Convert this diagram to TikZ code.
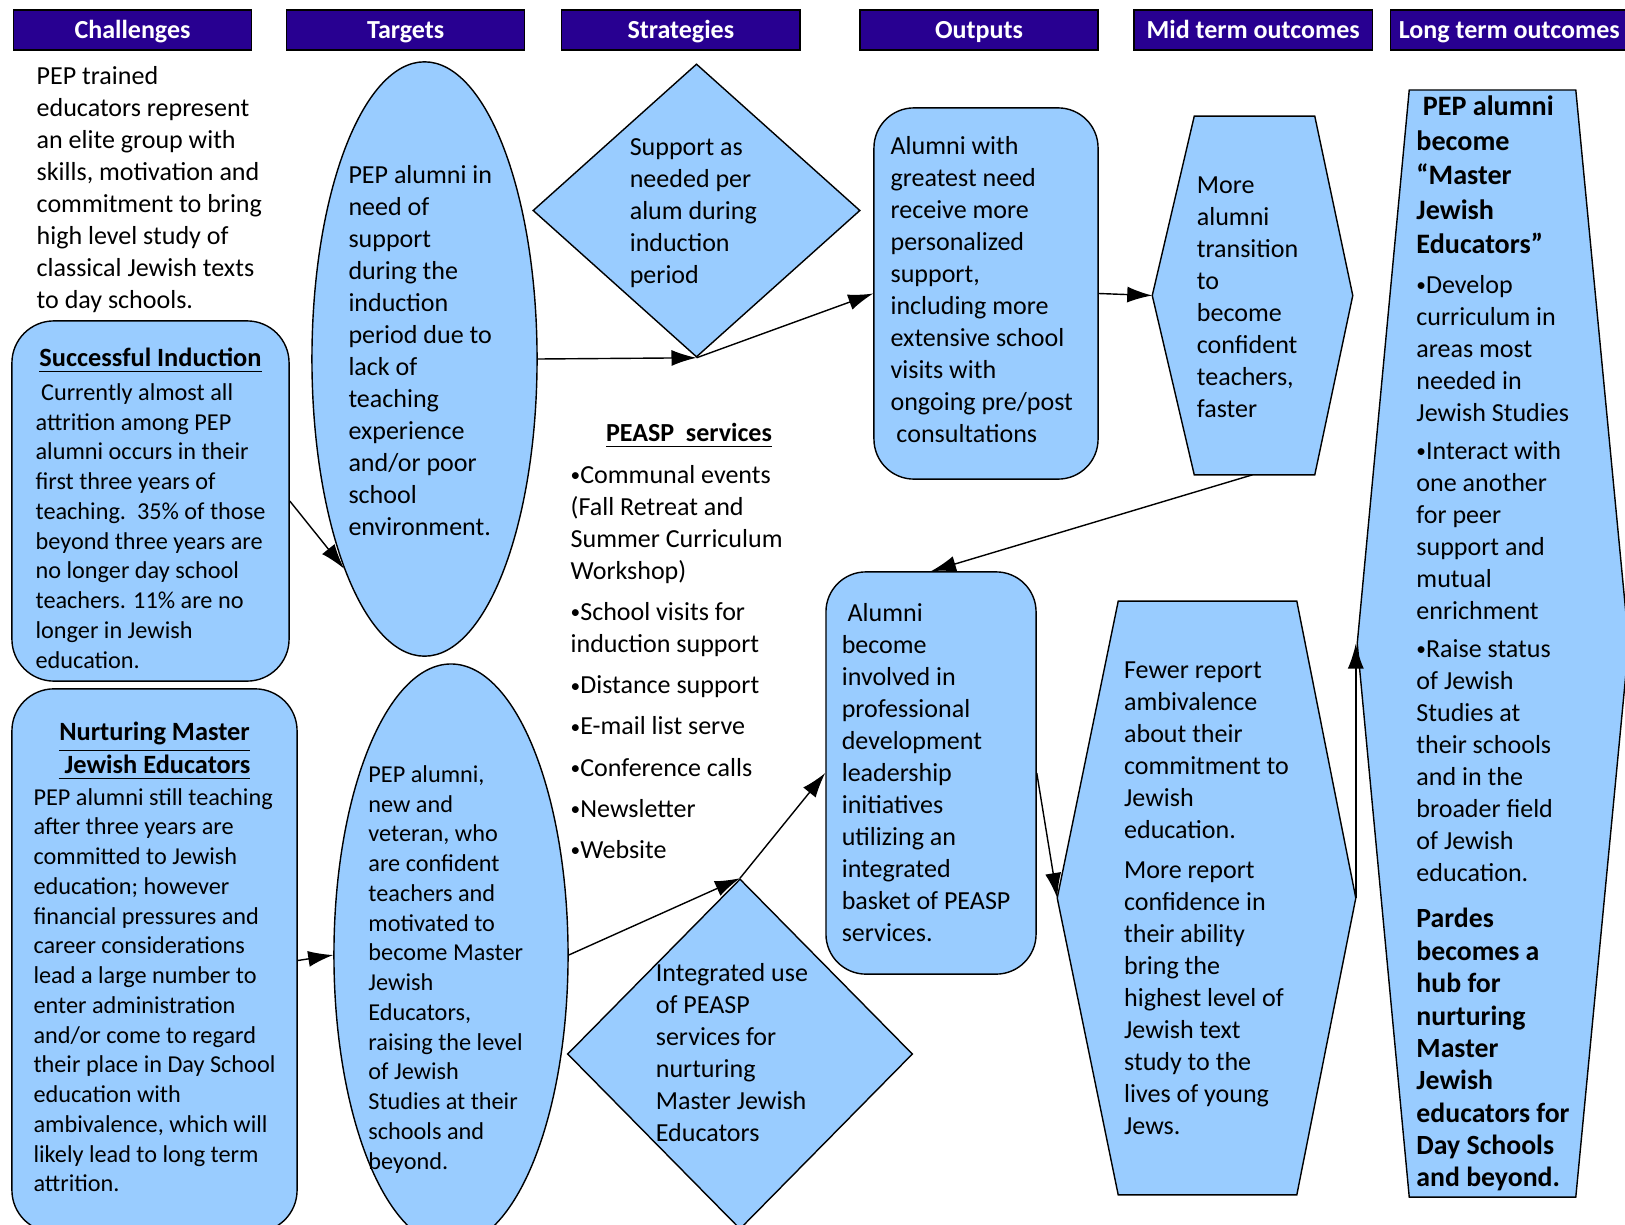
\documentclass[tikz,border=0pt]{standalone}
\usepackage{fontspec}
\setmainfont{Carlito}
\usetikzlibrary{positioning}
\usetikzlibrary{arrows.meta, shapes, backgrounds, calc}

\definecolor{hdrblue}{RGB}{40,0,145}
\definecolor{boxblue}{RGB}{153,204,255}
\newcommand{\ltbold}[1]{{\fontsize{8}{9.8}\selectfont\bfseries #1}}
\newcommand{\ltpardes}[1]{{\fontsize{7.9}{9.2}\selectfont\bfseries #1}}
\newcommand{\boxhead}[1]{{\fontsize{7.5}{9}\selectfont\bfseries\underline{#1}}}
\newcommand{\bul}{\raisebox{0.5pt}{\fontsize{5.5}{5.5}\selectfont\textbullet}}
% text block moved by (#1, #2) inside its shape
\newcommand{\nudged}[3]{\raisebox{#2}[\height][\depth]{\hspace*{#1}\begin{tabular}{@{}l@{}}#3\end{tabular}\hspace*{-#1}}}

\begin{document}
\begin{tikzpicture}[x=0.01cm, y=-0.01cm, >={Latex[length=2.5mm, width=1.6mm]}, font=\fontsize{7.4}{9.1}\selectfont]%

    \tikzstyle{hdr} = [ rectangle, thin, draw = black, fill = hdrblue, text = white, font = \fontsize{7.4}{9.1}\selectfont\bfseries, minimum width = 2.38cm, minimum height = 0.4cm, inner sep = 0pt, outer sep = 0pt, text height = 0.7em, text depth = 0.22em]
    \tikzstyle{rbox} = [ rectangle, rounded corners = 0.42cm, thin, draw = black, fill = boxblue, inner sep = 0pt, align = left]
    \tikzstyle{oval} = [ ellipse, thin, draw = black, fill = boxblue, inner sep = 0pt, align = left]
    \tikzstyle{dmd} = [ diamond, thin, draw = black, fill = boxblue, inner sep = -1pt, align = left]
    \tikzstyle{hexa} = [ rectangle, inner sep = 0pt, align = left]
    \tikzstyle{hexline} = [ thin, draw = black, fill = boxblue]
    \tikzstyle{smalltxt} = [ font = \fontsize{6.9}{8.46}\selectfont]
    \tikzstyle{plain} = [ inner sep = 0pt, align = left]
    \tikzstyle{flowarrow} = [ ->, thin]

    \useasboundingbox (0,0) rectangle (1625,1224);
    \clip (0,0) rectangle (1625,1224);

    %% Column headers
    \node [hdr] (hd_chal) at (132.5, 30) {Challenges};
    \node [hdr, right = 0.35cm of hd_chal] (hd_tgt) {Targets};
    \node [hdr, right = 0.37cm of hd_tgt] (hd_str) {Strategies};
    \node [hdr, right = 0.6cm of hd_str] (hd_out) {Outputs};
    \node [hdr, right = 0.36cm of hd_out] (hd_mid) {Mid term outcomes};
    \node [hdr, right = 0.18cm of hd_mid] (hd_long) {Long term outcomes};

    %% Challenges
    \node [plain, anchor = west] (chal_txt) at (36, 190) {PEP trained\\ educators represent\\ an elite group with\\ skills, motivation and\\ commitment to bring\\ high level study of\\ classical Jewish texts\\ to day schools.};

    \node [rbox, smalltxt, minimum width = 2.77cm, minimum height = 3.6cm] (chal_si) at (150.5, 501) {\nudged{0pt}{-2.9pt}{
        \multicolumn{1}{@{}c@{}}{\boxhead{Successful Induction}}\\[1.2pt]
        \ Currently almost all\\ attrition among PEP\\ alumni occurs in their\\ first three years of\\ teaching.\ \ 35\% of those\\ beyond three years are\\ no longer day school\\ teachers. 11\% are no\\ longer in Jewish\\ education.}};

    \node [rbox, smalltxt, minimum width = 2.85cm, minimum height = 5.43cm] (chal_nm) at (154.5, 960.5) {\begin{tabular}{@{}l@{}}
        \multicolumn{1}{@{}c@{}}{\boxhead{Nurturing Master}}\\[0.3pt]
        \multicolumn{1}{@{}c@{}}{\boxhead{\ Jewish Educators}}\\[0.6pt]
        PEP alumni still teaching\\ after three years are\\ committed to Jewish\\ education; however\\ financial pressures and\\ career considerations\\ lead a large number to\\ enter administration\\ and/or come to regard\\ their place in Day School\\ education with\\ ambivalence, which will\\ likely lead to long term\\ attrition.
        \end{tabular}};

    %% Targets
    \node [oval, minimum width = 2.25cm, minimum height = 5.94cm] (tgt_1) at (424.5, 359) {\nudged{-1.2pt}{1.6pt}{PEP alumni in\\ need of\\ support\\ during the\\ induction\\ period due to\\ lack of\\ teaching\\ experience\\ and/or poor\\ school\\ environment.}};

    \node [oval, smalltxt, inner ysep = -0.7pt, minimum width = 2.34cm, minimum height = 5.74cm] (tgt_2) at (451, 955) {\nudged{-1.5pt}{-4.2pt}{PEP alumni,\\ new and\\ veteran, who\\ are confident\\ teachers and\\ motivated to\\ become Master\\ Jewish\\ Educators,\\ raising the level\\ of Jewish\\ Studies at their\\ schools and\\ beyond.}};

    %% Strategies
    \node [dmd, minimum width = 3.27cm, minimum height = 2.93cm] (str_1) at (696.5, 210.5) {\nudged{-0.9pt}{-0.8pt}{Support as\\ needed per\\ alum during\\ induction\\ period}};

    \node [dmd, minimum width = 3.45cm, minimum height = 3.5cm] (str_2) at (740, 1054) {\nudged{-2.3pt}{-0.4pt}{Integrated use\\ of PEASP\\ services for\\ nurturing\\ Master Jewish\\ Educators}};

    \node [plain] (svc_head) at (689, 436) {\bfseries\underline{PEASP~ services}};
    \node [plain, anchor = west] (svc_list) at (570, 662) {\bul Communal events\\ (Fall Retreat and\\ Summer Curriculum\\ Workshop)\\[2.6pt]
        \bul School visits for\\ induction support\\[2.6pt]
        \bul Distance support\\[2.6pt]
        \bul E-mail list serve\\[2.6pt]
        \bul Conference calls\\[2.6pt]
        \bul Newsletter\\[2.6pt]
        \bul Website};

    %% Outputs
    \node [rbox, rounded corners = 0.4cm, minimum width = 2.24cm, minimum height = 3.71cm] (out_1) at (986, 293.5) {\nudged{-1.2pt}{0.3pt}{Alumni with\\ greatest need\\ receive more\\ personalized\\ support,\\ including more\\ extensive school\\ visits with\\ ongoing pre/post\\ \ consultations}};

    \node [rbox, rounded corners = 0.4cm, minimum width = 2.1cm, minimum height = 4.02cm] (out_2) at (931, 773) {\nudged{-1.4pt}{-0.5pt}{\ Alumni\\ become\\ involved in\\ professional\\ development\\ leadership\\ initiatives\\ utilizing an\\ integrated\\ basket of PEASP\\ services.}};

    %% Mid and long term outcomes
    \node [hexa, minimum width = 1.99cm, minimum height = 3.57cm] (mid_1) at (1252.5, 295.5) {\nudged{-1.4pt}{-0.9pt}{More\\ alumni\\ transition\\ to\\ become\\ confident\\ teachers,\\ faster}};

    \node [hexa, minimum width = 2.97cm, minimum height = 5.92cm] (mid_2) at (1206.5, 898) {Fewer report\\ ambivalence\\ about their\\ commitment to\\ Jewish\\ education.\\[2.2pt]
        More report\\ confidence in\\ their ability\\ bring the\\ highest level of\\ Jewish text\\ study to the\\ lives of young\\ Jews.};

    \node [hexa, minimum width = 2.7cm, minimum height = 11.05cm] (long_1) at (1493, 643.5) {\ltbold{\ PEP alumni}\\[0.7pt] \ltbold{become}\\[0.7pt] \ltbold{“Master}\\[0.7pt] \ltbold{Jewish}\\[0.7pt] \ltbold{Educators”}\\[2.2pt]
        \bul Develop\\ curriculum in\\ areas most\\ needed in\\ Jewish Studies\\[1.8pt]
        \bul Interact with\\ one another\\ for peer\\ support and\\ mutual\\ enrichment\\[1.6pt]
        \bul Raise status\\ of Jewish\\ Studies at\\ their schools\\ and in the\\ broader field\\ of Jewish\\ education.\\[4.2pt]
        \ltpardes{Pardes}\\[0.1pt] \ltpardes{becomes a}\\[0.1pt] \ltpardes{hub for}\\[0.1pt] \ltpardes{nurturing}\\[0.1pt] \ltpardes{Master}\\[0.1pt] \ltpardes{Jewish}\\[0.1pt] \ltpardes{educators for}\\[0.1pt] \ltpardes{Day Schools}\\[0.1pt] \ltpardes{and beyond.}};

    \begin{scope}[on background layer]
        \draw [hexline] ($(mid_1.north west)+(42,0)$) -- ($(mid_1.north east)+(-38,0)$) -- (mid_1.east) -- ($(mid_1.south east)+(-38,0)$) -- ($(mid_1.south west)+(42,0)$) -- (mid_1.west) -- cycle;
        \draw [hexline] ($(mid_2.north west)+(61,0)$) -- ($(mid_2.north east)+(-59,0)$) -- (mid_2.east) -- ($(mid_2.south east)+(-59,0)$) -- ($(mid_2.south west)+(61,0)$) -- (mid_2.west) -- cycle;
        \draw [hexline] ($(long_1.north west)+(52,0)$) -- ($(long_1.north east)+(-53,0)$) -- (long_1.east) -- ($(long_1.south east)+(-53,0)$) -- ($(long_1.south west)+(52,0)$) -- (long_1.west) -- cycle;
    \end{scope}

    %% Links
    \draw [flowarrow] (chal_si.east) -- (tgt_1.249);
    \draw [flowarrow] (tgt_1.east) -- (str_1.south);
    \draw [flowarrow] (str_1.south) -- (out_1.west);
    \draw [flowarrow] (out_1.east) -- (mid_1.west);
    \draw [flowarrow] (mid_1.south) -- (out_2.north);
    \draw [flowarrow] (out_2.east) -- (mid_2.west);
    \draw [flowarrow] (mid_2.east) -- (mid_2.east |- long_1.west);

    \draw [flowarrow] (chal_nm.east) -- (tgt_2.west);
    \draw [flowarrow] (tgt_2.east) -- (str_2.north);
    \draw [flowarrow] (str_2.north) -- (out_2.west);

\end{tikzpicture}
\end{document}
